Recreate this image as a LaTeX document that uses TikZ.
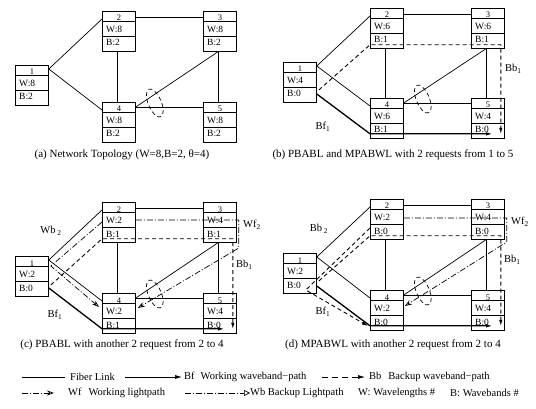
\documentclass[tikz,border=0pt]{standalone}
\usepackage{fontspec}
\setmainfont{Liberation Serif}
\usetikzlibrary{arrows.meta,shapes.geometric}
\tikzset{
  nodebox/.style={draw, line width=0.8pt, minimum width=33pt, minimum height=40pt, inner sep=0pt, anchor=north west},
  divider/.style={line width=0.8pt},
  numtext/.style={font=\fontsize{8.5}{9}\selectfont, inner sep=0pt, anchor=base},
  celltext/.style={font=\fontsize{9.5}{10}\selectfont, inner sep=0pt, anchor=base west},
  fiber/.style={line width=0.7pt},
  lossell/.style={ellipse, draw, line width=0.7pt, dash pattern=on 4pt off 3pt, minimum width=13pt, minimum height=30pt, inner sep=0pt, rotate=23},
  bfpath/.style={line width=1.3pt, -{Latex[length=7pt,width=3.5pt]}},
  bbpath/.style={line width=0.9pt, dash pattern=on 4pt off 3pt, -{Latex[length=6pt,width=3.5pt]}},
  wpath/.style={line width=0.7pt, dash pattern=on 6pt off 2pt on 1pt off 2pt, -{Stealth[open,length=7pt,width=5pt]}},
  wbleg/.style={line width=0.7pt, dash pattern=on 6pt off 2pt on 1pt off 2pt, -{Triangle[open,length=6pt,width=6pt]}},
  lbl/.style={font=\fontsize{10.5}{12}\selectfont, inner sep=0pt},
  caption/.style={font=\fontsize{11}{13}\selectfont, inner sep=0pt},
  legtext/.style={font=\fontsize{10.5}{13}\selectfont, inner sep=0pt, anchor=west},
}
\newcommand\netnode[6]{%
  \node[nodebox] (#1) at (#2,#3) {};
  \draw[divider] ([yshift=-10.5pt]#1.north west) -- ([yshift=-10.5pt]#1.north east);
  \draw[divider] ([yshift=-25.5pt]#1.north west) -- ([yshift=-25.5pt]#1.north east);
  \node[numtext] (#1n) at ([yshift=-10pt]#1.north) {#4};
  \node[celltext] (#1w) at ([xshift=4pt,yshift=-21.5pt]#1.north west) {W:#5};
  \node[celltext] (#1b) at ([xshift=4pt,yshift=-35pt]#1.north west) {B:#6};
}
\newcommand\fibers[1]{%
  \draw[fiber] ([yshift=-4pt]#11.north east) -- ([yshift=-8pt]#12.north west);
  \draw[fiber] ([yshift=-4pt]#11.north east) -- ([yshift=-8pt]#14.north west);
  \draw[fiber] ([yshift=-6pt]#12.north east) -- ([yshift=-6pt]#13.north west);
  \draw[fiber] ([yshift=-5pt]#14.north east) -- ([yshift=-5pt]#15.north west);
  \draw[fiber] ([xshift=-2pt]#12.south) -- ([xshift=-2pt]#14.north);
  \draw[fiber] ([xshift=-2pt]#13.south) -- ([xshift=-2pt]#15.north);
  \draw[fiber] ([xshift=-2pt]#13.south) -- ([yshift=-5pt]#14.north east);
  \node[lossell] (#1e) at ([xshift=19pt,yshift=-1pt]#14.north east) {};
}
\begin{document}
\begin{tikzpicture}[x=1pt,y=-1pt]
\useasboundingbox (0,0) rectangle (536,409);
% ---------- panel (a)
\netnode{a1}{15}{65}{1}{8}{2}
\netnode{a2}{102}{11}{2}{8}{2}
\netnode{a3}{203}{11}{3}{8}{2}
\netnode{a4}{102}{102}{4}{8}{2}
\netnode{a5}{203}{102}{5}{8}{2}
\fibers{a}
\node[caption] (capa) at (122,155) {(a) Network Topology (W=8,B=2, θ=4)};
% ---------- panel (b)
\netnode{b1}{283}{62}{1}{4}{0}
\netnode{b2}{370}{8}{2}{6}{1}
\netnode{b3}{471}{8}{3}{6}{1}
\netnode{b4}{370}{98}{4}{6}{1}
\netnode{b5}{471}{98}{5}{4}{0}
\fibers{b}
\draw[bfpath] ([yshift=-32pt]b1.north east) -- ([yshift=5pt]b4.south west) -- ([xshift=22pt,yshift=5pt]b5.south west);
\draw[bbpath] ([xshift=2pt,yshift=-28pt]b1.north east) -- ([yshift=4pt]b2.south west) -- ([xshift=-4pt,yshift=4pt]b3.south east) -- ([xshift=-4pt,yshift=5pt]b5.south east);
\node[lbl] (bbf) at (323,127) {Bf\textsubscript{1}};
\node[lbl,anchor=west] (bbb) at (505,69) {Bb\textsubscript{1}};
\node[caption] (capb) at (393,155) {(b) PBABL and MPABWL with 2 requests from 1 to 5};
% ---------- panel (c)
\netnode{c1}{15}{256}{1}{2}{0}
\netnode{c2}{102}{202}{2}{2}{1}
\netnode{c3}{203}{202}{3}{4}{1}
\netnode{c4}{102}{293}{4}{2}{1}
\netnode{c5}{203}{293}{5}{4}{0}
\fibers{c}
\draw[bfpath] ([yshift=-32pt]c1.north east) -- ([yshift=5pt]c4.south west) -- ([xshift=22pt,yshift=5pt]c5.south west);
\draw[bbpath] ([xshift=2pt,yshift=-29pt]c1.north east) -- ([yshift=4pt]c2.south west) -- ([xshift=-4pt,yshift=4pt]c3.south east) -- ([xshift=-4pt,yshift=5pt]c5.south east);
\draw[wpath] ([yshift=-20pt]c2.north west) -- ([xshift=2pt,yshift=-10pt]c1.north east) -- ([xshift=-3pt,yshift=-14pt]c4.north west);
\draw[wpath] ([yshift=-18pt]c2.north east) -- ([xshift=2pt,yshift=-18pt]c3.north east) -- ([xshift=2pt,yshift=-46pt]c3.north east) -- ([xshift=2pt,yshift=-15pt]c4.north east);
\node[lbl] (cwb) at (51,231) {Wb\,\textsubscript{2}};
\node[lbl,anchor=west] (cwf) at (243,225) {Wf\textsubscript{2}};
\node[lbl,anchor=west] (cbb) at (236,265) {Bb\textsubscript{1}};
\node[lbl] (cbf) at (55,315) {Bf\textsubscript{1}};
\node[caption] (capc) at (122,345) {(c) PBABL with another 2 request from 2 to 4};
% ---------- panel (d)
\netnode{d1}{283}{253}{1}{2}{0}
\netnode{d2}{370}{199}{2}{2}{0}
\netnode{d3}{471}{199}{3}{4}{0}
\netnode{d4}{370}{290}{4}{2}{0}
\netnode{d5}{471}{290}{5}{4}{0}
\fibers{d}
\draw[bfpath] ([yshift=-33pt]d1.north east) -- ([yshift=5pt]d4.south west) -- ([xshift=22pt,yshift=5pt]d5.south west);
\draw[bbpath] ([xshift=2pt,yshift=-28pt]d1.north east) -- ([yshift=4pt]d2.south west) -- ([xshift=-4pt,yshift=4pt]d3.south east) -- ([xshift=-4pt,yshift=5pt]d5.south east);
\draw[bbpath] ([yshift=-29pt]d2.north west) -- ([xshift=-11pt,yshift=-37pt]d1.north east) -- ([xshift=-2pt,yshift=-36pt]d4.north west);
\draw[wpath] ([yshift=-19pt]d2.north east) -- ([xshift=2pt,yshift=-19pt]d3.north east) -- ([xshift=2pt,yshift=-43pt]d3.north east) -- ([xshift=1pt,yshift=-16pt]d4.north east);
\node[lbl] (dbb2) at (319,229) {Bb\,\textsubscript{2}};
\node[lbl,anchor=west] (dwf) at (511,222) {Wf\textsubscript{2}};
\node[lbl,anchor=west] (dbb) at (504,260) {Bb\textsubscript{1}};
\node[lbl] (dbf) at (323,312) {Bf\textsubscript{1}};
\node[caption] (capd) at (393,345) {(d) MPABWL with another 2 request from 2 to 4};
% ---------- legend
\coordinate (l1s) at (22,377); \coordinate (l1e) at (65,377);
\node[legtext] (l1t) at (70,377) {Fiber Link};
\draw[fiber] (l1s) -- (l1e);
\coordinate (l2s) at (125,377); \coordinate (l2e) at (182,377);
\node[legtext] (l2t) at (184,377) {Bf\hspace{6pt}Working waveband−path};
\draw[fiber,-{Latex[length=7pt,width=4pt]}] (l2s) -- (l2e);
\coordinate (l3s) at (322,377); \coordinate (l3e) at (365,377);
\node[legtext] (l3t) at (369,377) {Bb\hspace{7pt}Backup waveband−path};
\draw[fiber,dash pattern=on 6pt off 4pt,-{Latex[length=7pt,width=4pt]}] (l3s) -- (l3e);
\coordinate (l4s) at (22,393); \coordinate (l4e) at (54,393);
\node[legtext] (l4t) at (68,393) {Wf\hspace{7pt}Working lightpath};
\draw[wpath] (l4s) -- (l4e);
\coordinate (l5s) at (185,393); \coordinate (l5e) at (250,393);
\node[legtext] (l5t) at (250,393) {Wb Backup Lightpath};
\draw[wbleg] (l5s) -- (l5e);
\node[legtext] (l6t) at (358,393) {W: Wavelengths \#};
\node[legtext] (l7t) at (450,393) {B: Wavebands \#};
\end{tikzpicture}
\end{document}
